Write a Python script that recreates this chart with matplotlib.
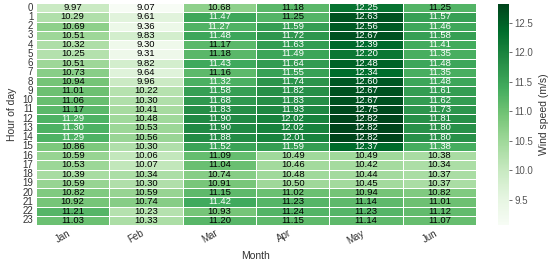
import matplotlib
matplotlib.use("Agg")
import matplotlib.pyplot as plt
import numpy as np
import pandas as pd
import seaborn as sns

months = ["Jan", "Feb", "Mar", "Apr", "May", "Jun"]
hours = list(range(24))

jan = [9.97, 10.29, 10.69, 10.51, 10.32, 10.25, 10.51, 10.73, 10.94, 11.01, 11.06, 11.17,
       11.29, 11.30, 11.29, 10.86, 10.59, 10.53, 10.39, 10.59, 10.82, 10.92, 11.21, 11.03]
feb = [9.07, 9.61, 9.36, 9.83, 9.30, 9.31, 9.82, 9.64, 9.96, 10.22, 10.30, 10.41,
       10.48, 10.53, 10.56, 10.30, 10.06, 10.07, 10.34, 10.30, 10.59, 10.74, 10.23, 10.33]
mar = [10.68, 11.47, 11.27, 11.48, 11.17, 11.18, 11.43, 11.16, 11.32, 11.58, 11.68, 11.83,
       11.90, 11.90, 11.88, 11.52, 11.09, 11.04, 10.74, 10.91, 11.15, 11.42, 10.93, 11.20]
apr = [11.18, 11.25, 11.59, 11.72, 11.63, 11.49, 11.64, 11.55, 11.74, 11.82, 11.83, 11.93,
       12.02, 12.02, 12.01, 11.59, 10.49, 10.46, 10.48, 10.50, 11.02, 11.23, 11.24, 11.15]
may = [12.25, 12.63, 12.56, 12.67, 12.39, 12.20, 12.48, 12.34, 12.60, 12.67, 12.67, 12.75,
       12.82, 12.82, 12.82, 12.37, 10.49, 10.42, 10.44, 10.45, 10.94, 11.14, 11.23, 11.14]
jun = [11.25, 11.57, 11.46, 11.58, 11.41, 11.35, 11.48, 11.35, 11.48, 11.61, 11.62, 11.73,
       11.81, 11.80, 11.80, 11.38, 10.38, 10.34, 10.37, 10.37, 10.82, 11.01, 11.12, 11.07]

df = pd.DataFrame(dict(zip(months, [jan, feb, mar, apr, may, jun])), index=hours)

sns.set_theme(style="white")
plt.rcParams['font.family'] = ['Liberation Sans', 'DejaVu Sans']

fig = plt.figure(figsize=(5.5, 2.65), dpi=100)
ax = fig.add_axes([36/550, 1 - 225/265, 440/550, 222/265])
cax = fig.add_axes([498/550, 1 - 225/265, 11/550, 221/265])

sns.heatmap(df, ax=ax, cbar_ax=cax, cmap="Greens", annot=True, fmt=".2f",
            linewidths=0.4, linecolor="white", yticklabels=True,
            annot_kws={"fontsize": 6.8},
            cbar_kws={"label": "Wind speed (m/s)"})

# white text only on the darker cells (as in the original)
for t in ax.texts:
    t.set_color("white" if float(t.get_text()) > 11.26 else "black")

ax.set_xlabel("Month", fontsize=7.5, color="#333333")
ax.set_ylabel("Hour of day", fontsize=7.5, color="#333333")
ax.tick_params(axis="both", length=0, labelsize=7, colors="#333333", pad=2)
plt.setp(ax.get_xticklabels(), rotation=30, ha="right")
plt.setp(ax.get_yticklabels(), rotation=0)

cax.tick_params(labelsize=7, length=2, width=0.6, colors="#555555", pad=2)
cax.yaxis.label.set_size(7.5)
cax.yaxis.label.set_color("#333333")
cax.set_yticks([9.5, 10.0, 10.5, 11.0, 11.5, 12.0, 12.5])

fig.savefig("out.png", dpi=100)
